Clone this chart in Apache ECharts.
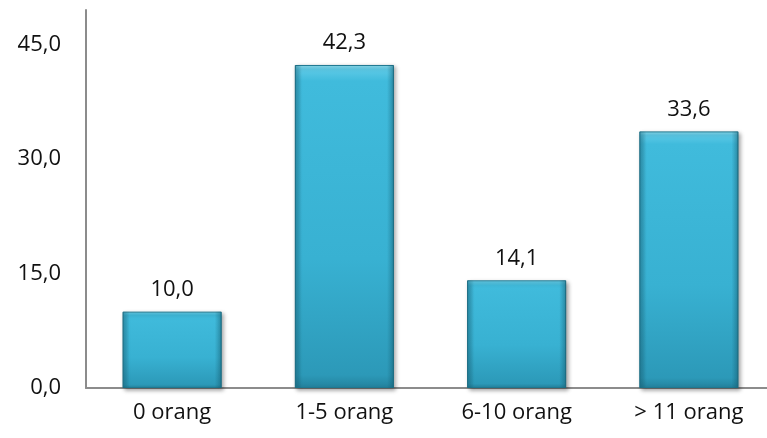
<!DOCTYPE html>
<html>
<head>
<meta charset="utf-8">
<script src="https://cdn.jsdelivr.net/npm/echarts@6/dist/echarts.min.js"></script>
<style>
  html, body { margin: 0; padding: 0; background: #fff; }
  #chart { width: 767px; height: 438px; }
</style>
</head>
<body>
<div id="chart"></div>
<script>
// Jumlah orang per kategori (persen)
const categories = ['0 orang', '1-5 orang', '6-10 orang', '> 11 orang'];
const values = [10.0, 42.3, 14.1, 33.6];
const yTicks = [0, 15, 30, 45];

const fmt = v => v.toFixed(1).replace('.', ',');
const FONT = '"Open Sans", sans-serif';

const chart = echarts.init(document.getElementById('chart'), null, { renderer: 'canvas' });

chart.setOption({
  animation: false,
  backgroundColor: '#ffffff',
  grid: {
    left: 86, width: 689, top: 10, bottom: 50,
    containLabel: false,
    outerBoundsMode: 'none'
  },
  xAxis: {
    type: 'category',
    data: categories,
    axisLine: { lineStyle: { color: '#8c8c8c', width: 2 } },
    axisTick: { show: false },
    axisLabel: { color: '#111', fontFamily: FONT, fontSize: 22, margin: 14 }
  },
  yAxis: {
    type: 'value',
    min: 0,
    max: 49.5,
    interval: 15,
    axisLine: { show: true, lineStyle: { color: '#8c8c8c', width: 2 } },
    axisTick: { show: false },
    splitLine: { show: false },
    axisLabel: {
      color: '#111', fontFamily: FONT, fontSize: 22, margin: 25,
      showMaxLabel: false,
      formatter: v => (yTicks.includes(v) ? fmt(v) : '')
    }
  },
  series: [{
    // bar body with bevelled top highlight
    type: 'bar',
    data: values,
    barWidth: '57.5%',
    z: 2,
    itemStyle: {
      color: new echarts.graphic.LinearGradient(0, 0, 0, 1, [
        { offset: 0, color: '#8ee0f2' },
        { offset: 0.015, color: '#5cc9e6' },
        { offset: 0.05, color: '#40bbdc' },
        { offset: 0.6, color: '#38b1d2' },
        { offset: 0.96, color: '#2c99b8' },
        { offset: 1, color: '#23829d' }
      ]),
      borderColor: '#1e7890',
      borderWidth: 1,
      shadowColor: 'rgba(0,0,0,0.35)',
      shadowBlur: 4,
      shadowOffsetX: 2,
      shadowOffsetY: 2
    },
    label: {
      show: true,
      position: 'top',
      distance: 11,
      color: '#111',
      fontFamily: FONT,
      fontSize: 22,
      formatter: p => fmt(p.value)
    }
  }, {
    // darker side edges of the bevel
    type: 'bar',
    data: values,
    barWidth: '57.5%',
    barGap: '-100%',
    z: 3,
    silent: true,
    itemStyle: {
      color: new echarts.graphic.LinearGradient(0, 0, 1, 0, [
        { offset: 0, color: 'rgba(20,90,110,0.45)' },
        { offset: 0.07, color: 'rgba(20,90,110,0)' },
        { offset: 0.93, color: 'rgba(20,90,110,0)' },
        { offset: 1, color: 'rgba(20,90,110,0.5)' }
      ])
    }
  }]
});
</script>
</body>
</html>
